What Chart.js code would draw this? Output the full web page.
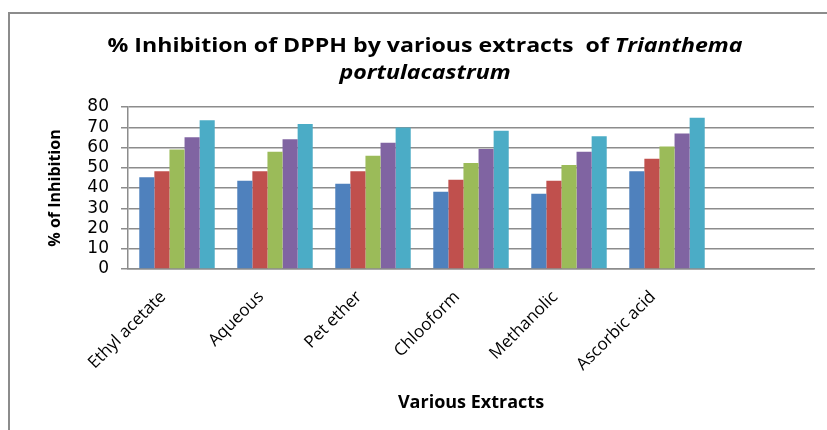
<!DOCTYPE html>
<html>
<head>
<meta charset="utf-8">
<script src="https://cdn.jsdelivr.net/npm/chart.js@4"></script>
<style>
  html, body { margin: 0; padding: 0; background: #fff; }
  #wrap { width: 827px; height: 430px; }
</style>
</head>
<body>
<div id="wrap"><canvas id="chart" width="827" height="430"></canvas></div>
<script>
// categories (last slot is empty, as in the original sheet)
const extracts = ['Ethyl acetate', 'Aqueous', 'Pet ether', 'Chlooform', 'Methanolic', 'Ascorbic acid', ''];
const yTicks = [0, 10, 20, 30, 40, 50, 60, 70, 80];

// five concentrations per extract
const series1 = [45.3, 43.6, 42.1, 38.2, 37.2, 48.3, null];
const series2 = [48.3, 48.3, 48.3, 44.1, 43.6, 54.5, null];
const series3 = [59.0, 57.9, 55.9, 52.4, 51.4, 60.5, null];
const series4 = [65.1, 64.1, 62.3, 59.2, 57.9, 66.9, null];
const series5 = [73.4, 71.6, 69.9, 68.3, 65.5, 74.7, null];

const colors = ['#4F81BD', '#C0504D', '#9BBB59', '#8064A2', '#4BACC6'];

const titleLine1 = '% Inhibition of DPPH by various extracts  of ';
const titleItalic1 = 'Trianthema';
const titleLine2 = 'portulacastrum';

// mixed bold / bold-italic title, plus the sheet frame (top and left edge)
const titleAndFrame = {
  id: 'titleAndFrame',
  afterDraw(chart) {
    const ctx = chart.ctx;
    ctx.save();
    ctx.strokeStyle = '#8c8c8c';
    ctx.lineWidth = 2;
    ctx.beginPath();
    ctx.moveTo(827, 13);
    ctx.lineTo(9, 13);
    ctx.lineTo(9, 430);
    ctx.stroke();

    const fNorm = 'bold 20px "Open Sans"';
    const fItal = 'italic bold 20px "Open Sans"';
    ctx.font = fNorm;
    const w1 = ctx.measureText(titleLine1).width;
    ctx.font = fItal;
    const w2 = ctx.measureText(titleItalic1).width;
    // the original title is a bit wider than the font gives, stretch it
    const sx = 635 / (w1 + w2);
    const cx = 425;
    ctx.fillStyle = '#000';
    ctx.textBaseline = 'alphabetic';
    ctx.translate(cx, 0);
    ctx.scale(sx, 1);
    const x = -(w1 + w2) / 2;
    ctx.font = fNorm;
    ctx.textAlign = 'left';
    ctx.fillText(titleLine1, x, 52);
    ctx.font = fItal;
    ctx.fillText(titleItalic1, x + w1, 52);
    ctx.textAlign = 'center';
    ctx.fillText(titleLine2, 0, 79);
    ctx.restore();
  }
};

const datasets = [series1, series2, series3, series4, series5].map((d, i) => ({
  label: 'Series' + (i + 1),
  data: d,
  backgroundColor: colors[i],
  borderWidth: 0
}));

new Chart(document.getElementById('chart'), {
  type: 'bar',
  data: { labels: extracts, datasets },
  options: {
    responsive: false,
    animation: false,
    devicePixelRatio: 1,
    layout: { padding: { top: 107, left: 40, right: 13, bottom: 16 } },
    categoryPercentage: 0.77,
    barPercentage: 1.0,
    plugins: {
      legend: { display: false },
      tooltip: { enabled: false }
    },
    scales: {
      x: {
        grid: { display: false },
        border: { display: true, color: '#8c8c8c', width: 1.5 },
        ticks: {
          autoSkip: false,
          maxRotation: 45,
          minRotation: 45,
          color: '#000',
          font: { family: 'Open Sans', size: 17 },
          padding: 10,
          labelOffset: -14
        },
        title: {
          display: true,
          text: 'Various Extracts',
          color: '#000',
          font: { family: 'Open Sans', size: 18, weight: 'bold' },
          padding: 0
        },
        afterFit(scale) { scale.height = 430 - 269 - 16; }
      },
      y: {
        min: 0,
        max: 80,
        afterBuildTicks(scale) { scale.ticks = yTicks.map(v => ({ value: v })); },
        grid: { color: '#8c8c8c', lineWidth: 1.5, tickLength: 7 },
        border: { display: true, color: '#8c8c8c', width: 1.5 },
        ticks: {
          autoSkip: false,
          color: '#000',
          font: { family: 'DejaVu Sans', size: 17 },
          padding: 12
        },
        title: {
          display: true,
          text: '% of Inhibition',
          color: '#000',
          font: { family: 'Open Sans', size: 16, weight: 'bold' },
          padding: { top: 6, bottom: 0 }
        },
        afterFit(scale) { scale.width = 128 - 40; }
      }
    }
  },
  plugins: [titleAndFrame]
});
</script>
</body>
</html>
